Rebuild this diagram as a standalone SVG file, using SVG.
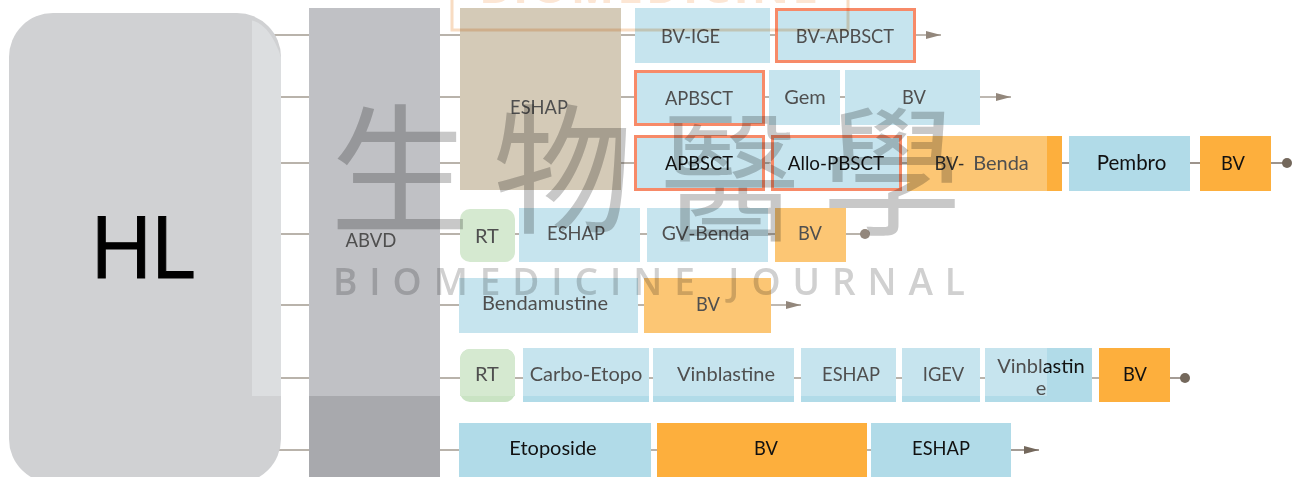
<svg xmlns="http://www.w3.org/2000/svg" width="1296" height="477" viewBox="0 0 1296 477">
<defs>
<marker id="ar" markerUnits="userSpaceOnUse" markerWidth="16" markerHeight="10" refX="15" refY="4" orient="auto"><path d="M0 0L15 4L0 8Z" fill="#93877c"/></marker>
<marker id="ard" markerUnits="userSpaceOnUse" markerWidth="16" markerHeight="10" refX="15" refY="4" orient="auto"><path d="M0 0L15 4L0 8Z" fill="#74685c"/></marker>
</defs>
<style>
text{font-family:"Lato","Open Sans",sans-serif;text-anchor:middle}
.t{font-size:20px;fill:#4f4f4f}
.d{font-size:20px;fill:#111}
.u{font-size:18.300px}
.c{stroke:#a39a90;stroke-width:1.4;fill:none}
.cd{stroke:#7d7267;stroke-width:1.4;fill:none}
.lb{fill:#c6e4ee}
.b{fill:#b1dbe8}
.lo{fill:#fcc674}
.o{fill:#fdaf3d}
.g{fill:#d5e9d0}
.r{fill:#c6e4ee;stroke:#f78a68;stroke-width:3}
.wm{fill:#c8c8c8;mix-blend-mode:multiply}
.cjk{font-family:"Noto Sans CJK TC",sans-serif;font-size:140px}
</style>
<g id="connectors">
<path class="c" d="M270 35H309M270 97H309M270 163H309M270 234H309M270 305H309M270 378H309M270 450H309"/>
<path class="c" d="M440 35H635M770 35H776"/>
<path class="c" d="M915 35H941" marker-end="url(#ar)"/>
<path class="c" d="M440 97H635M764 97H770M838 97H846"/>
<path class="c" d="M980 97H1011" marker-end="url(#ar)"/>
<path class="c" d="M440 163H635M764 163H772M900 163H907"/>
<path class="cd" d="M1062 163H1069M1190 163H1200M1271 163H1285"/>
<path class="c" d="M440 234H460M515 234H519M640 234H647M768 234H775M846 234H865"/>
<path class="c" d="M440 305H459M638 305H644"/>
<path class="c" d="M771 305H801" marker-end="url(#ar)"/>
<path class="c" d="M440 378H460M515 378H523M649 378H653M794 378H801M896 378H902M980 378H985M1092 378H1099"/>
<path class="cd" d="M1170 378H1185"/>
<path class="c" d="M440 450H459M651 450H657M867 450H871"/>
<path class="cd" d="M1011 450H1039" marker-end="url(#ard)"/>
<circle cx="1287" cy="163" r="5" fill="#74685c"/>
<circle cx="1185" cy="378" r="5" fill="#74685c"/>
<circle cx="865" cy="234" r="5" fill="#93877c"/>
</g>
<g id="node-hl"><rect x="9" y="13" width="272" height="470" rx="44" fill="#d0d1d3"/><path d="M252 20.500Q270 25 281 57V396H252Z" fill="#dcdee0"/><text x="141" y="278" fill="#000" stroke="#000" stroke-width="1" style="font-family:'Open Sans',sans-serif;font-size:86px;letter-spacing:-3px">HL</text></g>
<g id="node-abvd"><rect x="309" y="8" width="131" height="388" fill="#c0c1c5"/><rect x="309" y="396" width="131" height="81" fill="#a8a9ad"/><text class="t" x="371" y="247" style="font-size:18.500px">ABVD</text></g>
<g id="node-eshap-top"><rect x="460" y="8" width="161" height="182" fill="#d4cab7"/><text class="t u" x="539" y="114">ESHAP</text></g>
<g id="n-bv-ige"><rect class="lb" x="635" y="8" width="135" height="55"/><text class="t u" x="690.500" y="43">BV-IGE</text></g>
<g id="n-bv-apbsct"><rect class="r" x="776.500" y="9.500" width="138" height="52"/><text class="t u" x="845" y="43">BV-APBSCT</text></g>
<g id="n-apbsct1"><rect class="r" x="635.500" y="71.500" width="128" height="53"/><text class="t u" x="699" y="105">APBSCT</text></g>
<g id="n-gem"><rect class="lb" x="769" y="70" width="71" height="55"/><text class="t" x="805" y="104">Gem</text></g>
<g id="n-bv2"><rect class="lb" x="845" y="70" width="135" height="55"/><text class="t u" x="914" y="104">BV</text></g>
<g id="n-apbsct2"><rect class="r" x="635.500" y="136.500" width="128" height="53"/><text class="d u" x="699" y="170">APBSCT</text></g>
<g id="n-allo"><rect class="r" x="772.500" y="136.500" width="128" height="53"/><text class="d" x="836" y="170" style="font-size:18.800px">Allo-PBSCT</text></g>
<g id="n-bv-benda"><rect class="o" x="907" y="136" width="155" height="55"/><rect class="lo" x="907" y="136" width="140" height="55"/><text class="t" x="949.500" y="170" style="font-size:18.300px;fill:#2e2e2e">BV-</text><text class="t" x="1001" y="170">Benda</text></g>
<g id="n-pembro"><rect class="b" x="1069" y="136" width="121" height="55"/><text class="d" x="1131.500" y="170" style="font-size:20.500px">Pembro</text></g>
<g id="n-bv3"><rect class="o" x="1200" y="136" width="71" height="55"/><text class="d u" x="1233" y="170">BV</text></g>
<g id="n-rt1"><rect class="g" x="460" y="209" width="55" height="53" rx="10"/><text class="t" x="487" y="243">RT</text></g>
<g id="n-eshap2"><rect class="lb" x="519" y="208" width="121" height="54"/><text class="t u" x="576" y="240">ESHAP</text></g>
<g id="n-gv"><rect class="lb" x="647" y="208" width="121" height="54"/><text class="t" x="705.500" y="240" style="font-size:19.400px">GV-Benda</text></g>
<g id="n-bv4"><rect class="lo" x="775" y="208" width="71" height="54"/><text class="t u" x="810" y="240">BV</text></g>
<g id="n-benda"><rect class="lb" x="459" y="278" width="179" height="55"/><text class="t" x="545" y="310">Bendamustine</text></g>
<g id="n-bv5"><rect class="lo" x="644" y="278" width="127" height="55"/><text class="t u" x="708" y="311">BV</text></g>
<g id="n-rt2"><rect fill="#c9e3c3" x="460" y="349" width="55" height="53" rx="10"/><path class="g" d="M460 359a10 10 0 0 1 10-10h35a10 10 0 0 1 10 10v37H460Z"/><text class="t" x="487" y="381">RT</text></g>
<g id="n-carbo"><rect class="b" x="523" y="348" width="126" height="54"/><rect class="lb" x="523" y="348" width="126" height="48"/><text class="t" x="586" y="381">Carbo-Etopo</text></g>
<g id="n-vin"><rect class="b" x="653" y="348" width="141" height="54"/><rect class="lb" x="653" y="348" width="141" height="48"/><text class="t" x="726" y="381">Vinblastine</text></g>
<g id="n-eshap3"><rect class="b" x="801" y="348" width="95" height="54"/><rect class="lb" x="801" y="348" width="95" height="48"/><text class="t u" x="851" y="381">ESHAP</text></g>
<g id="n-igev"><rect class="b" x="902" y="348" width="78" height="54"/><rect class="lb" x="902" y="348" width="78" height="48"/><text class="t u" x="943.500" y="381">IGEV</text></g>
<g id="n-vin2"><rect class="b" x="985" y="348" width="107" height="54"/><rect class="lb" x="985" y="348" width="62" height="48"/><text class="t" x="1041" y="373">Vinbl<tspan fill="#111">astin</tspan></text><text class="t" x="1041" y="395">e</text></g>
<g id="n-bv6"><rect class="o" x="1099" y="348" width="71" height="54"/><text class="d u" x="1135" y="381">BV</text></g>
<g id="n-etop"><rect class="b" x="459" y="423" width="192" height="54"/><text class="d" x="553" y="455">Etoposide</text></g>
<g id="n-bv7"><rect class="o" x="657" y="423" width="210" height="54"/><text class="d u" x="766" y="455">BV</text></g>
<g id="n-eshap4"><rect class="b" x="871" y="423" width="140" height="54"/><text class="d u" x="941" y="455">ESHAP</text></g>
<g id="watermark">
<text class="wm cjk" x="400" y="222">生</text>
<text class="wm cjk" x="563" y="222">物</text>
<text class="wm cjk" x="730" y="230">醫</text>
<text class="wm cjk" x="892" y="224">學</text>
<text class="wm" x="333" y="295" style="font-family:'Open Sans',sans-serif;font-size:37px;font-weight:600;letter-spacing:11.950px;text-anchor:start;fill:#d0d0d0">BIOMEDICINE JOURNAL</text>
<text x="650" y="3" style="font-family:'Open Sans',sans-serif;font-size:46px;font-weight:700;letter-spacing:3px;fill:#fce6d4;mix-blend-mode:multiply">BIOMEDICINE</text>
<rect x="452" y="-20" width="396" height="50" fill="none" stroke="#f8dcc2" stroke-width="3" style="mix-blend-mode:multiply"/>
</g>
</svg>
